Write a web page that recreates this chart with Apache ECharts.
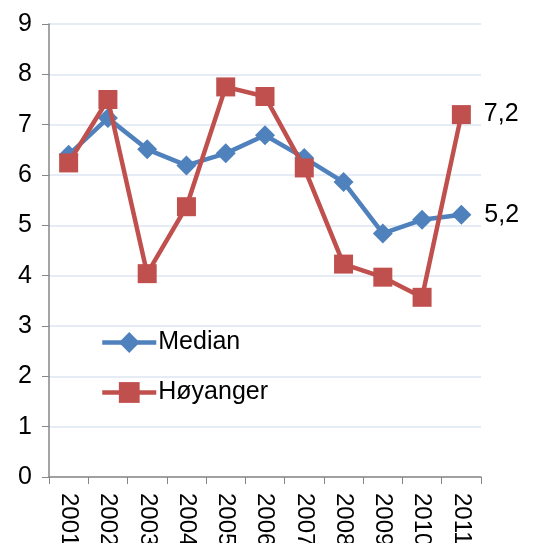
<!DOCTYPE html>
<html>
<head>
<meta charset="utf-8">
<script src="https://cdn.jsdelivr.net/npm/echarts@6/dist/echarts.min.js"></script>
<style>
  html, body { margin: 0; padding: 0; background: #fff; }
  #main { width: 550px; height: 543px; }
</style>
</head>
<body>
<div id="main"></div>
<script>
// år
const years = ['2001', '2002', '2003', '2004', '2005', '2006', '2007', '2008', '2009', '2010', '2011']
// verdiar lesne av figuren
const median = [6.40, 7.13, 6.51, 6.19, 6.43, 6.79, 6.34, 5.86, 4.84, 5.11, 5.21]
const hoyanger = [6.24, 7.50, 4.04, 5.37, 7.75, 7.56, 6.14, 4.23, 3.97, 3.57, 7.20]

const font = 'Liberation Sans, Arial, sans-serif'

// berre siste punkt får etikett
function endLabel(arr) {
  return arr.map((v, i) => {
    if (i !== arr.length - 1) return v
    return {
      value: v,
      label: {
        show: true,
        position: 'right',
        distance: 13,
        color: '#000',
        fontSize: 25,
        fontFamily: font,
        formatter: (p) => p.value.toFixed(1).replace('.', ',')
      }
    }
  })
}

let chart = echarts.init(document.getElementById('main'))

let option = {
  animation: false,
  backgroundColor: '#fff',
  grid: {
    left: 49,
    right: 69,
    top: 24,
    bottom: 66,
    containLabel: false,
    outerBoundsMode: 'none'
  },
  legend: {
    orient: 'vertical',
    left: 95,
    top: 325,
    itemWidth: 54,
    itemHeight: 26,
    itemGap: 25,
    itemStyle: { borderWidth: 0 },
    lineStyle: { width: 4.5 },
    textStyle: { fontSize: 25, fontFamily: font, color: '#000', padding: [0, 0, 0, -3] },
    data: ['Median', 'Høyanger']
  },
  xAxis: {
    type: 'category',
    data: years,
    boundaryGap: true,
    axisLine: { lineStyle: { color: '#868686', width: 1.5 } },
    axisTick: { show: true, length: 7, lineStyle: { color: '#868686' } },
    axisLabel: {
      rotate: -90,
      margin: 16,
      fontSize: 24,
      fontFamily: font,
      color: '#000',
      interval: 0
    }
  },
  yAxis: {
    type: 'value',
    min: 0,
    max: 9,
    interval: 1,
    axisLine: { show: true, lineStyle: { color: '#868686', width: 1.5 } },
    axisTick: { show: true, length: 7, lineStyle: { color: '#868686' } },
    axisLabel: { fontSize: 25, fontFamily: font, color: '#000', margin: 17 },
    splitLine: { lineStyle: { color: '#dce6f2', width: 1.5 } }
  },
  series: [
    {
      name: 'Median',
      type: 'line',
      data: endLabel(median),
      symbol: 'diamond',
      symbolSize: 20,
      lineStyle: { color: '#4f81bd', width: 4.5 },
      itemStyle: { color: '#4f81bd' },
      z: 2
    },
    {
      name: 'Høyanger',
      type: 'line',
      data: endLabel(hoyanger),
      symbol: 'rect',
      symbolSize: 19,
      lineStyle: { color: '#c0504d', width: 4.5 },
      itemStyle: { color: '#c0504d' },
      z: 3
    }
  ]
}

chart.setOption(option)
window.addEventListener('resize', function () {
  chart.resize()
})
</script>
</body>
</html>
